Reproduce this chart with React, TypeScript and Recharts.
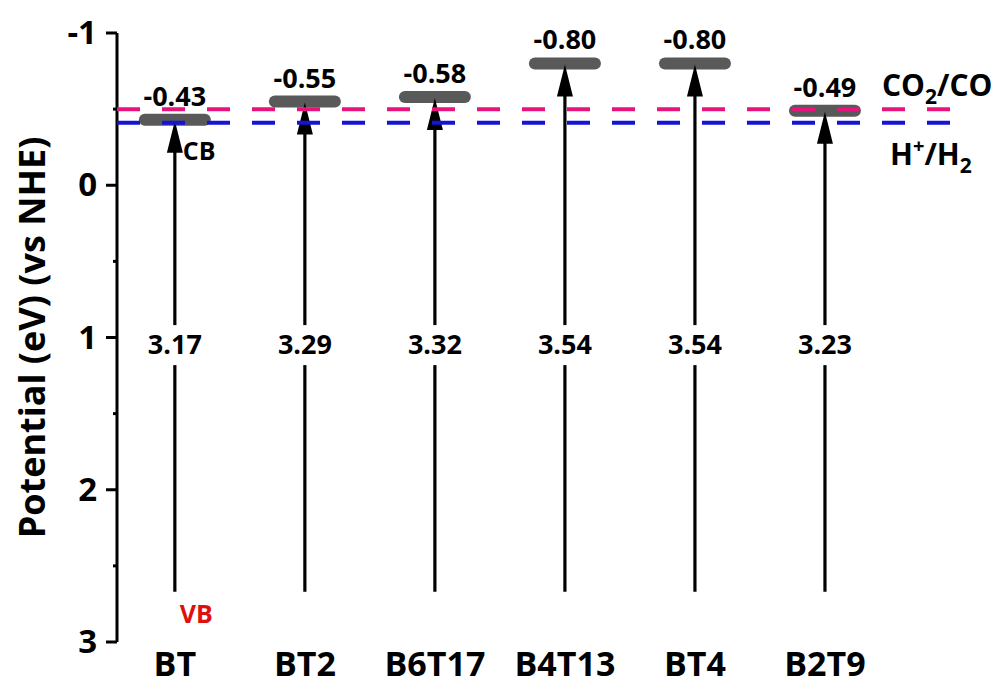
import { ComposedChart, Bar, Scatter, XAxis, YAxis, ReferenceLine } from "recharts";

// band edge data (eV vs NHE)
const categories = ["BT", "BT2", "B6T17", "B4T13", "BT4", "B2T9"];
const cbEdges = [-0.43, -0.55, -0.58, -0.8, -0.8, -0.49];
const bandGaps = [3.17, 3.29, 3.32, 3.54, 3.54, 3.23];
const yTicks = [-1, -0.5, 0, 0.5, 1, 1.5, 2, 2.5, 3];
const xTicks = [0, 1, 2, 3, 4, 5];
const arrowBase = 2.67;
const gapLabelLevel = 1.05;
const co2Level = -0.5;
const h2Level = -0.41;

const FONT = "'Open Sans', sans-serif";
const PINK = "#E8147C";
const BLUE = "#1414D2";

const rows = categories.map((name, i) => ({
  x: i,
  name,
  cb: cbEdges[i],
  range: [cbEdges[i], arrowBase],
}));

const gapRows = categories.map((name, i) => ({ x: i, y: gapLabelLevel, gap: bandGaps[i], name }));

function BandArrow(props: any) {
  const { x, y, width, height, index } = props;
  const p = props.payload ?? props;
  const cx = x + width / 2;
  const top = Math.min(y, y + height);
  const bottom = Math.max(y, y + height);
  return (
    <g>
      <line x1={cx} x2={cx} y1={bottom} y2={top + 26} stroke="#000" strokeWidth={3.2} />
      <rect x={cx - 36} y={top - 6} width={72} height={12} rx={6} fill="#595959" />
      <path d={`M${cx} ${top + 1} L${cx - 8} ${top + 33} L${cx + 8} ${top + 33} Z`} fill="#000" />
      <text x={cx} y={top - 14} textAnchor="middle" fontSize={27} fontWeight={700} fontFamily={FONT} fill="#000">
        {p.cb.toFixed(2)}
      </text>
      {index === 0 && (
        <>
          <text x={cx + 8} y={top + 40} fontSize={25} fontWeight={700} fontFamily={FONT} fill="#000">
            CB
          </text>
          <text x={cx + 5} y={bottom + 31} fontSize={25} fontWeight={700} fontFamily={FONT} fill="#E01010">
            VB
          </text>
        </>
      )}
    </g>
  );
}

function GapLabel(props: any) {
  const { cx, cy, payload } = props;
  return (
    <g>
      <rect x={cx - 32} y={cy - 20} width={64} height={40} fill="#fff" />
      <text x={cx} y={cy + 9} textAnchor="middle" fontSize={27} fontWeight={700} fontFamily={FONT} fill="#000">
        {payload.gap.toFixed(2)}
      </text>
    </g>
  );
}

function YTick(props: any) {
  const { x, y, payload } = props;
  const v = payload.value;
  const major = Number.isInteger(v);
  return (
    <g>
      <line x1={x - (major ? 11 : 4)} x2={x} y1={y} y2={y} stroke="#000" strokeWidth={3} />
      {major && (
        <text x={x - 20} y={y + 11} textAnchor="end" fontSize={33} fontWeight={700} fontFamily={FONT} fill="#000">
          {String(v)}
        </text>
      )}
    </g>
  );
}

function XTick(props: any) {
  const { x, y, payload } = props;
  return (
    <text x={x} y={y + 34} textAnchor="middle" fontSize={34} fontWeight={700} fontFamily={FONT} fill="#000">
      {categories[payload.value]}
    </text>
  );
}

function YLabel(props: any) {
  const vb = props.viewBox;
  const cx = vb.x + 45;
  const cy = vb.y + vb.height / 2;
  return (
    <text
      x={cx}
      y={cy}
      transform={`rotate(-90 ${cx} ${cy})`}
      textAnchor="middle"
      fontSize={36}
      fontWeight={700}
      fontFamily={FONT}
      fill="#000"
    >
      Potential (eV) (vs NHE)
    </text>
  );
}

function Co2Label(props: any) {
  const { x, y, width } = props.viewBox;
  return (
    <text x={x + width - 73} y={y - 13} fontSize={30} fontWeight={700} fontFamily={FONT} fill="#000">
      CO
      <tspan dy={8} fontSize={21}>2</tspan>
      <tspan dy={-8}>/CO</tspan>
    </text>
  );
}

function H2Label(props: any) {
  const { x, y, width } = props.viewBox;
  return (
    <text x={x + width - 65} y={y + 42} fontSize={30} fontWeight={700} fontFamily={FONT} fill="#000">
      H
      <tspan dy={-12} fontSize={20}>+</tspan>
      <tspan dy={12}>/H</tspan>
      <tspan dy={8} fontSize={21}>2</tspan>
    </text>
  );
}

export default function App() {
  return (
    <div style={{ position: "absolute", left: 0, top: 0, width: 1001, height: 686, background: "#fff" }}>
      <ComposedChart width={1001} height={686} data={rows} margin={{ top: 33, right: 46, bottom: 0, left: 0 }}>
        <XAxis
          type="number"
          dataKey="x"
          domain={[-0.445, 6]}
          ticks={xTicks}
          interval={0}
          axisLine={false}
          tickLine={false}
          tickSize={0}
          tickMargin={0}
          height={44}
          tick={<XTick />}
        />
        <YAxis
          type="number"
          domain={[-1, 3]}
          reversed
          ticks={yTicks}
          interval={0}
          width={117}
          axisLine={{ stroke: "#000", strokeWidth: 3 }}
          tickLine={false}
          tickSize={0}
          tickMargin={0}
          tick={<YTick />}
          label={<YLabel />}
        />
        <Bar dataKey="range" barSize={20} shape={<BandArrow />} isAnimationActive={false} />
        <Scatter data={gapRows} dataKey="y" shape={<GapLabel />} isAnimationActive={false} />
        <ReferenceLine
          y={co2Level}
          stroke={PINK}
          strokeWidth={4}
          strokeDasharray="23 22"
          label={<Co2Label />}
          zIndex={500}
        />
        <ReferenceLine
          y={h2Level}
          stroke={BLUE}
          strokeWidth={4}
          strokeDasharray="23 22"
          label={<H2Label />}
          zIndex={500}
        />
      </ComposedChart>
    </div>
  );
}
